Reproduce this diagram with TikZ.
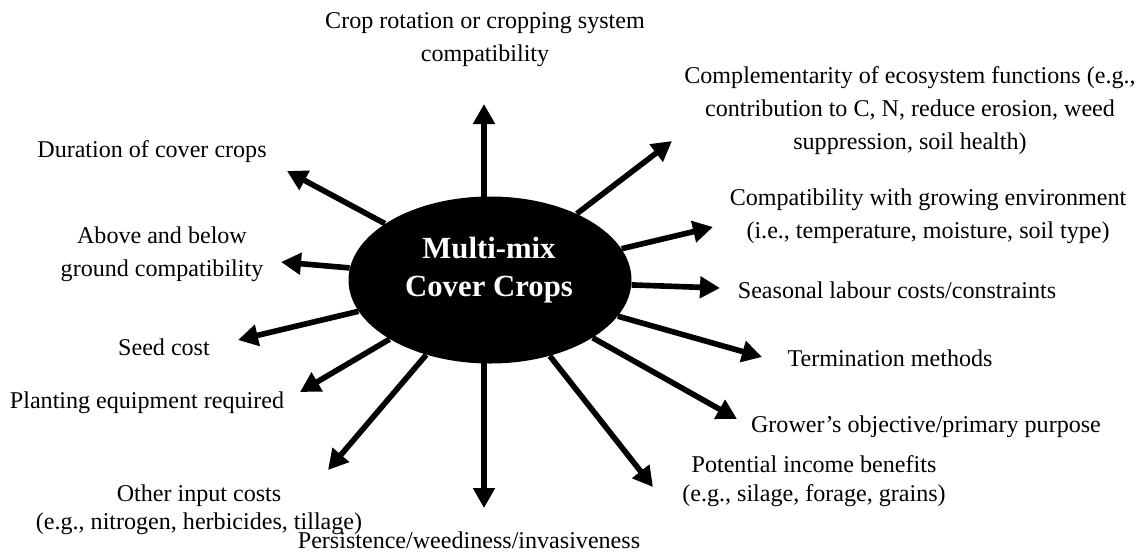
\documentclass[tikz,border=0pt]{standalone}
\usepackage{fontspec}
\setmainfont{Liberation Serif}
\usetikzlibrary{arrows.meta,shapes.geometric}

\begin{document}
\begin{tikzpicture}[x=0.02cm,y=-0.02cm,
  lbl/.style={align=center,inner sep=0pt,font=\fontsize{13.7}{18.8}\selectfont},
  lbltight/.style={lbl,font=\fontsize{13.7}{16.2}\selectfont},
  arr/.style={line width=3.2pt,-{Triangle[width=0.42cm,length=0.40cm]}}]
\useasboundingbox (0,0) rectangle (1137,552);
\node[ellipse,fill=black,inner sep=0pt,minimum width=283*0.02cm,minimum height=167*0.02cm] (mm) at (490,280) {};
\node[text=white,align=center,font=\fontsize{17.5}{21.6}\selectfont\bfseries] (mmtext) at (489,270) {Multi-mix\\Cover Crops};

\node[lbl] (rotation) at (485,40) {Crop rotation or cropping system\\compatibility};
\node[lbl] (ecosys) at (910,111) {Complementarity of ecosystem functions (e.g.,\\contribution to C, N, reduce erosion, weed\\suppression, soil health)};
\node[lbl] (environ) at (928,216) {Compatibility with growing environment\\(i.e., temperature, moisture, soil type)};
\node[lbl] (labour) at (897,290) {Seasonal labour costs/constraints};
\node[lbl] (termin) at (890,358) {Termination methods};
\node[lbl] (objective) at (926,427) {Grower’s objective/primary purpose};
\node[lbltight] (income) at (814,481) {Potential income benefits\\(e.g., silage, forage, grains)};
\node[lbl] (persist) at (469,540) {Persistence/weediness/invasiveness};
\node[lbltight] (inputs) at (199,510) {Other input costs\\(e.g., nitrogen, herbicides, tillage)};
\node[lbl] (planting) at (147,403) {Planting equipment required};
\node[lbl] (seed) at (164,347) {Seed cost};
\node[lbl] (ground) at (162,254) {Above and below\\ground compatibility};
\node[lbl] (duration) at (152,152) {Duration of cover crops};

\coordinate (tRotation) at (484,104);
\coordinate (tEcosys) at (672,141);
\coordinate (tEnviron) at (713,227);
\coordinate (tLabour) at (720,288);
\coordinate (tTermin) at (762,357);
\coordinate (tObjective) at (737,419);
\coordinate (tIncome) at (653,487);
\coordinate (tPersist) at (484,508);
\coordinate (tInputs) at (328,470);
\coordinate (tPlanting) at (300,392);
\coordinate (tSeed) at (238,340);
\coordinate (tGround) at (281,262);
\coordinate (tDuration) at (287,171);

\draw[arr] (tRotation |- mm.north) ++(0,4) -- (tRotation);
\draw[arr] (tPersist |- mm.south) ++(0,-4) -- (tPersist);
\foreach \t in {tEcosys,tEnviron,tLabour,tTermin,tObjective,tIncome,tInputs,tPlanting,tSeed,tGround,tDuration}
  \draw[arr] (mm) -- (\t);
\end{tikzpicture}
\end{document}
